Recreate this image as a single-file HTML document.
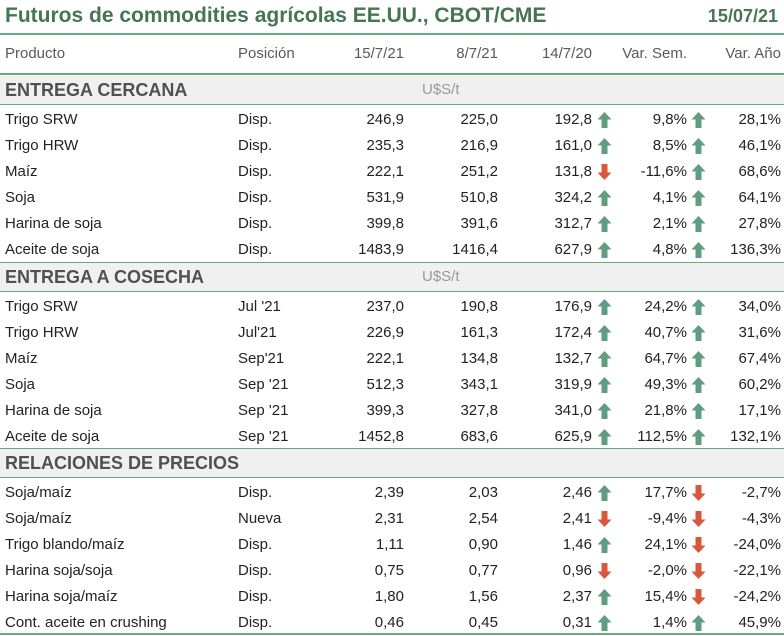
<!DOCTYPE html>
<html><head><meta charset="utf-8"><style>
body{margin:0;width:784px;height:635px;background:#fff;font-family:"Liberation Sans",sans-serif;overflow:hidden;position:relative}
.t{position:absolute;font-size:15px;color:#222;white-space:nowrap;line-height:26px;height:26px}
.r{text-align:right}
.hl{position:absolute;left:0;width:784px;height:2px;background:#6aaa7a}
.band{position:absolute;left:0;width:784px;height:28px;background:#f0f0f0}
.bt{position:absolute;left:5px;font-size:18px;font-weight:bold;color:#505050;line-height:28px}
.unit{position:absolute;left:422px;font-size:15px;color:#999;line-height:28px}
svg.a{position:absolute;width:15px;height:18px}
</style></head><body>
<div style="position:absolute;left:5px;top:4px;font-size:21px;font-weight:bold;color:#457653">Futuros de commodities agrícolas EE.UU., CBOT/CME</div>
<div style="position:absolute;right:6px;top:6px;font-size:18px;font-weight:bold;color:#457653">15/07/21</div>
<div class="hl" style="top:33px"></div>
<div class="hl" style="top:73px"></div>
<div class="hl" style="top:633px"></div>
<div id="root"></div>
<script>
const headers=["Producto","Posición","15/7/21","8/7/21","14/7/20","Var. Sem.","Var. Año"];
const sections=["ENTREGA CERCANA","ENTREGA A COSECHA","RELACIONES DE PRECIOS"];
const units=["U$S/t","U$S/t",""];
const products=[["Trigo SRW","Trigo HRW","Maíz","Soja","Harina de soja","Aceite de soja"],["Trigo SRW","Trigo HRW","Maíz","Soja","Harina de soja","Aceite de soja"],["Soja/maíz","Soja/maíz","Trigo blando/maíz","Harina soja/soja","Harina soja/maíz","Cont. aceite en crushing"]];
const positions=[["Disp.","Disp.","Disp.","Disp.","Disp.","Disp."],["Jul '21","Jul'21","Sep'21","Sep '21","Sep '21","Sep '21"],["Disp.","Nueva","Disp.","Disp.","Disp.","Disp."]];
const v1=[["246,9","235,3","222,1","531,9","399,8","1483,9"],["237,0","226,9","222,1","512,3","399,3","1452,8"],["2,39","2,31","1,11","0,75","1,80","0,46"]];
const v2=[["225,0","216,9","251,2","510,8","391,6","1416,4"],["190,8","161,3","134,8","343,1","327,8","683,6"],["2,03","2,54","0,90","0,77","1,56","0,45"]];
const v3=[["192,8","161,0","131,8","324,2","312,7","627,9"],["176,9","172,4","132,7","319,9","341,0","625,9"],["2,46","2,41","1,46","0,96","2,37","0,31"]];
const vs=[["9,8%","8,5%","-11,6%","4,1%","2,1%","4,8%"],["24,2%","40,7%","64,7%","49,3%","21,8%","112,5%"],["17,7%","-9,4%","24,1%","-2,0%","15,4%","1,4%"]];
const va=[["28,1%","46,1%","68,6%","64,1%","27,8%","136,3%"],["34,0%","31,6%","67,4%","60,2%","17,1%","132,1%"],["-2,7%","-4,3%","-24,0%","-22,1%","-24,2%","45,9%"]];
const root=document.getElementById('root');
function txt(s,x,y,w,right,name,color){const d=document.createElement('div');d.className='t'+(right?' r':'');d.textContent=s;d.style.top=y+'px';if(right){d.style.left=(x-w)+'px';d.style.width=w+'px';}else d.style.left=x+'px';if(color)d.style.color=color;


root.appendChild(d);}
function arrow(x,y,up,name){const ns='http://www.w3.org/2000/svg';const s=document.createElementNS(ns,'svg');s.setAttribute('class','a');s.setAttribute('viewBox','0 0 15 18');s.style.left=x+'px';s.style.top=(y+4)+'px';


const p=document.createElementNS(ns,'path');p.setAttribute('d',up?'M7.5 1 L14.5 8.5 L10.5 8.5 L10.5 17 L4.5 17 L4.5 8.5 L0.5 8.5Z':'M7.5 17 L14.5 9.5 L10.5 9.5 L10.5 1 L4.5 1 L4.5 9.5 L0.5 9.5Z');p.setAttribute('fill',up?'#5f9c80':'#d9573a');s.appendChild(p);root.appendChild(s);}
function up(s){return !s.startsWith('-');}
const hx=[[5,0],[238,0],[404,1],[498,1],[592,1],[687,1],[781,1]];
headers.forEach((h,i)=>txt(h,hx[i][0],41,90,hx[i][1],'header-'+i,'#595959'));
const bandTops=[76,263,449];
sections.forEach((s,si)=>{const bt=bandTops[si];
const b=document.createElement('div');b.className='band';b.style.top=bt+'px';


root.appendChild(b);
const t=document.createElement('div');t.className='bt';t.style.top=bt+'px';t.textContent=s;


root.appendChild(t);
if(units[si]){const u=document.createElement('div');u.className='unit';u.style.top=bt+'px';u.textContent=units[si];


root.appendChild(u);}
const l=document.createElement('div');l.className='hl';l.style.top=(bt+28)+'px';l.style.height='1px';


root.appendChild(l);
if(si>0){const l2=document.createElement('div');l2.className='hl';l2.style.top=(bt-1)+'px';l2.style.height='1px';


root.appendChild(l2);}
products[si].forEach((p,ri)=>{const y=bt+31+ri*26;
txt(p,5,y,0,0,'product-name');
txt(positions[si][ri],238,y,0,0,'position');
txt(v1[si][ri],404,y,90,1,'value-15-7-21');
txt(v2[si][ri],498,y,90,1,'value-8-7-21');
txt(v3[si][ri],592,y,90,1,'value-14-7-20');
arrow(597,y,up(vs[si][ri]),'weekly-arrow');
txt(vs[si][ri],687,y,80,1,'weekly-change');
arrow(691,y,up(va[si][ri]),'yearly-arrow');
txt(va[si][ri],781,y,70,1,'yearly-change');
});});
</script>
</body></html>
